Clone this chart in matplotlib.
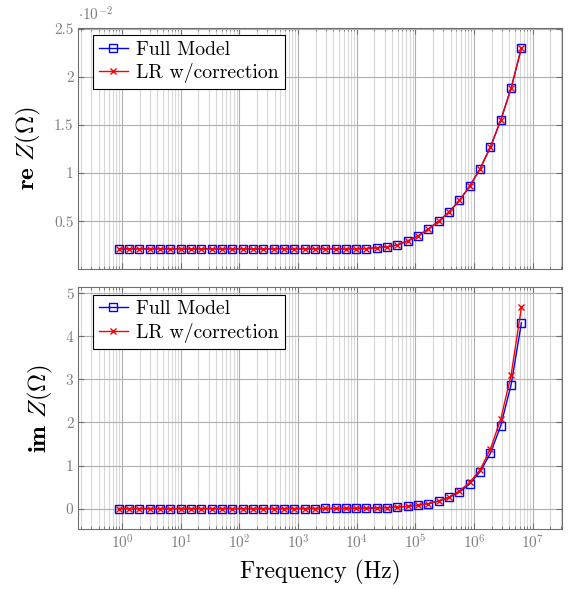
import matplotlib
matplotlib.use('Agg')
import matplotlib.pyplot as plt
from matplotlib.ticker import FuncFormatter, MultipleLocator

plt.rcParams['font.family'] = 'serif'
plt.rcParams['font.serif'] = ['cmr10']
plt.rcParams['mathtext.fontset'] = 'cm'
plt.rcParams['axes.formatter.use_mathtext'] = True
plt.rcParams['axes.unicode_minus'] = False

# frequencies (Hz)
freq = [0.87, 1.305, 1.958, 2.936, 4.405, 6.607, 9.91, 14.87, 22.3, 33.45,
        50.2, 75.3, 112.9, 169.4, 254, 381, 572, 858, 1286, 1930,
        2894, 4342, 6512, 9769, 14650, 21980, 32970, 49450, 74180, 111300,
        166900, 250300, 375500, 563300, 844900, 1267000, 1901000, 2851000,
        4277000, 6415000]
decades = [1e0, 1e1, 1e2, 1e3, 1e4, 1e5, 1e6, 1e7]

# real part, in units of 1e-2 Ohm
re_full = [0.213, 0.213, 0.213, 0.213, 0.213, 0.213, 0.213, 0.213, 0.213, 0.213,
           0.213, 0.213, 0.213, 0.213, 0.213, 0.213, 0.213, 0.213, 0.213, 0.213,
           0.213, 0.213, 0.213, 0.213, 0.216, 0.224, 0.234, 0.255, 0.296, 0.348,
           0.420, 0.500, 0.596, 0.717, 0.865, 1.045, 1.27, 1.55, 1.88, 2.30]
re_lr = [0.213, 0.213, 0.213, 0.213, 0.213, 0.213, 0.213, 0.213, 0.213, 0.213,
         0.213, 0.213, 0.213, 0.213, 0.213, 0.213, 0.213, 0.213, 0.213, 0.213,
         0.213, 0.213, 0.213, 0.213, 0.216, 0.224, 0.234, 0.255, 0.296, 0.348,
         0.420, 0.500, 0.596, 0.717, 0.865, 1.045, 1.27, 1.55, 1.88, 2.30]

# imaginary part (Ohm)
im_full = [0.0, 0.0, 0.0, 0.0, 0.0, 0.0, 0.0, 0.0, 0.0, 0.0,
           0.0, 0.0, 0.0, 0.0, 0.0, 0.0, 0.0005, 0.0007, 0.001, 0.0015,
           0.002, 0.003, 0.005, 0.007, 0.010, 0.015, 0.022, 0.035, 0.052, 0.078,
           0.115, 0.175, 0.26, 0.385, 0.575, 0.855, 1.285, 1.925, 2.875, 4.31]
im_lr = [0.0, 0.0, 0.0, 0.0, 0.0, 0.0, 0.0, 0.0, 0.0, 0.0,
         0.0, 0.0, 0.0, 0.0, 0.0, 0.0, 0.0005, 0.0007, 0.001, 0.0015,
         0.002, 0.003, 0.005, 0.007, 0.010, 0.015, 0.022, 0.035, 0.052, 0.078,
         0.115, 0.175, 0.265, 0.41, 0.61, 0.90, 1.385, 2.08, 3.10, 4.67]

gray = '#7f7f7f'

fig = plt.figure(figsize=(5.72, 5.89), dpi=100)
ax1 = fig.add_axes([0.1369, 0.5433, 0.8451, 0.4097])
ax2 = fig.add_axes([0.1369, 0.1024, 0.8451, 0.4098])


def style(ax):
    ax.set_xscale('log')
    ax.margins(0.1)
    ax.set_xticks(decades)
    ax.grid(True, which='major', color='#b0b0b0', lw=0.8)
    ax.grid(True, which='minor', color='#d8d8d8', lw=0.8)
    ax.set_axisbelow(True)
    ax.tick_params(which='both', direction='in', top=True, right=True,
                   color='#6f6f6f', labelcolor=gray, labelsize=11)
    ax.tick_params(which='major', length=4)
    ax.tick_params(which='minor', length=2.5)
    for s in ax.spines.values():
        s.set_color('#6f6f6f')
    ax.yaxis.set_major_formatter(FuncFormatter(lambda v, p: '%g' % v))
    ax.legend(loc='upper left', bbox_to_anchor=(0.0298, 0.97), borderaxespad=0,
              fancybox=False, edgecolor='black', framealpha=1, fontsize=14.2,
              handlelength=1.5, handletextpad=0.4, labelspacing=0.22,
              borderpad=0.3)
    ax.get_legend().get_frame().set_linewidth(0.8)


ax1.plot(freq, re_full, color='blue', marker='s', mfc='none', ms=6, lw=1,
         label='Full Model')
ax1.plot(freq, re_lr, color='red', marker='x', ms=4, lw=1,
         label='LR w/correction')
style(ax1)
ax1.yaxis.set_major_locator(MultipleLocator(0.5))
ax1.tick_params(labelbottom=False)
ax1.set_ylabel(r'$\mathbf{re}\ Z(\Omega)$', fontsize=18, labelpad=8)
ax1.text(0.0, 1.015, r'$\cdot 10^{-2}$', transform=ax1.transAxes, color=gray,
         fontsize=11, ha='left', va='bottom')

ax2.plot(freq, im_full, color='blue', marker='s', mfc='none', ms=6, lw=1,
         label='Full Model')
ax2.plot(freq, im_lr, color='red', marker='x', ms=4, lw=1,
         label='LR w/correction')
style(ax2)
ax2.yaxis.set_major_locator(MultipleLocator(1))
ax2.set_ylabel(r'$\mathbf{im}\ Z(\Omega)$', fontsize=18, labelpad=8)
ax2.set_xlabel('Frequency (Hz)', fontsize=17, labelpad=6)

ax1.set_xlim(ax2.get_xlim())

fig.savefig('out.png', dpi=100)
